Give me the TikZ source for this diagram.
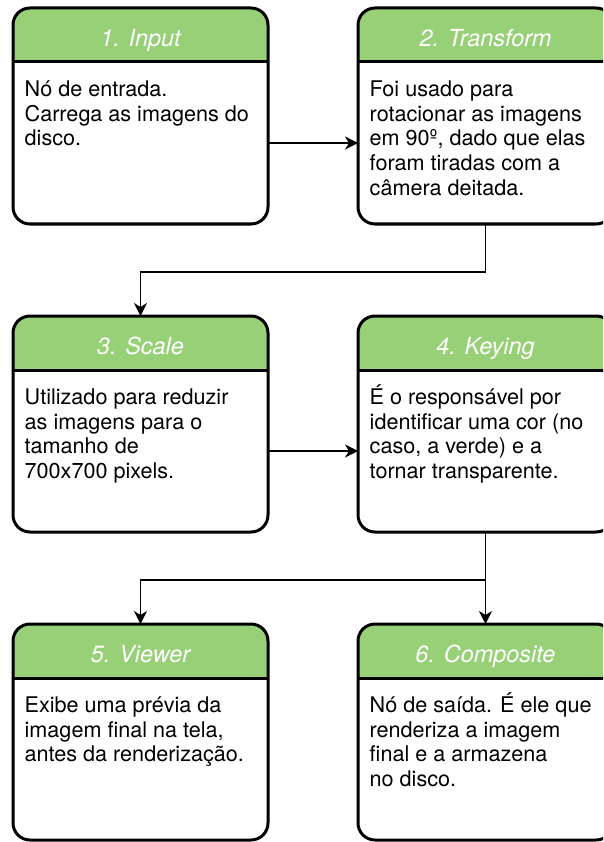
\documentclass[tikz,border=0pt]{standalone}
\usepackage{fontspec}
\setmainfont{TeX Gyre Heros}
\usetikzlibrary{calc,arrows.meta}
\definecolor{hdrgreen}{HTML}{97D077}
\tikzset{
  boxshape/.style={rectangle, minimum width=255pt, minimum height=216pt, inner sep=0pt, outer sep=0pt},
  boxline/.style={line width=3pt, draw=black},
  hdrfill/.style={fill=hdrgreen},
  titletext/.style={anchor=base, inner sep=0pt, text=white, font=\fontsize{23.5}{28}\selectfont\itshape},
  bodytext/.style={anchor=north west, inner sep=0pt, align=left, font=\fontsize{21.6}{24.6}\selectfont},
  conn/.style={line width=1.5pt, draw=black, -{Stealth[length=13pt,width=13pt,inset=4pt]}},
}
\newcommand{\procbox}[5]{%
  \node[boxshape] (#1) at (#2,#3) {};
  \begin{scope}
    \clip[rounded corners=17pt] (#1.north west) rectangle (#1.south east);
    \fill[white] (#1.north west) rectangle (#1.south east);
    \fill[hdrfill] (#1.north west) rectangle ($(#1.north east)+(0,-54)$);
  \end{scope}
  \draw[boxline] ($(#1.north west)+(0,-54)$) -- ($(#1.north east)+(0,-54)$);
  \draw[boxline, rounded corners=17pt] (#1.north west) rectangle (#1.south east);
  \node[titletext] (#1t) at ($(#1.north)+(0,-38.5)$) {#4};
  \node[bodytext] (#1d) at ($(#1.north west)+(11.5,-68.5)$) {\rule{0pt}{20pt}#5};
  \coordinate (#1m) at ($(#1.center)+(0,-27)$);
}
\begin{document}
\begin{tikzpicture}[x=1pt,y=1pt]
\useasboundingbox (0,0) rectangle (603,-842);
\clip (0,0) rectangle (603,-842);
\procbox{b1}{140.5}{-116}{1. Input}{Nó de entrada.\\Carrega as imagens do\\disco.}
\procbox{b2}{485.5}{-116}{2. Transform}{Foi usado para\\rotacionar as imagens\\em 90º, dado que elas\\foram tiradas com a\\câmera deitada.}
\procbox{b3}{140.5}{-424}{3. Scale}{Utilizado para reduzir\\as imagens para o\\tamanho de\\700x700 pixels.}
\procbox{b4}{485.5}{-424}{4. Keying}{É o responsável por\\identificar uma cor (no\\caso, a verde) e a\\tornar transparente.}
\procbox{b5}{140.5}{-732}{5. Viewer}{Exibe uma prévia da\\imagem final na tela,\\antes da renderização.}
\procbox{b6}{485.5}{-732}{6. Composite}{Nó de saída. É ele que\\renderiza a imagem\\final e a armazena\\no disco.}
\draw[conn] (b1.east |- b1m) -- (b2.west |- b1m);
\draw[conn] (b3.east |- b3m) -- (b4.west |- b3m);
\draw[conn] (b2.south) -- ++(0,-48) -| (b3.north);
\draw[conn] (b4.south) -- ++(0,-48) -| (b5.north);
\draw[conn] (b4.south) -- (b6.north);
\end{tikzpicture}
\end{document}
